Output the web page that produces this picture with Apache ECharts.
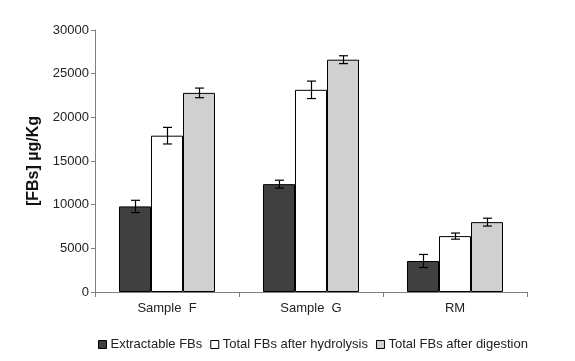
<!DOCTYPE html>
<html><head><meta charset="utf-8">
<script src="https://cdn.jsdelivr.net/npm/echarts@6/dist/echarts.min.js"></script>
<style>html,body{margin:0;padding:0;background:#fff}#c{width:575px;height:361px}</style>
</head><body><div id="c"></div>
<script>
const categories = ['Sample  F', 'Sample  G', 'RM'];
const seriesNames = ['Extractable FBs', 'Total FBs after hydrolysis', 'Total FBs after digestion'];
const extractable = [9800, 12350, 3550];
const extractableErr = [700, 450, 750];
const hydrolysis = [17900, 23150, 6400];
const hydrolysisErr = [950, 1000, 350];
const digestion = [22800, 26600, 8000];
const digestionErr = [550, 450, 450];
const yTicks = [0, 5000, 10000, 15000, 20000, 25000, 30000];

const colors = ['#404040', '#ffffff', '#d0d0d0'];
const values = [extractable, hydrolysis, digestion];
const errs = [extractableErr, hydrolysisErr, digestionErr];
const catGap = 0.3333;

const chart = echarts.init(document.getElementById('c'));
const series = [];
values.forEach((vals, i) => {
  series.push({
    name: seriesNames[i], type: 'bar', data: vals, barGap: '0%', barCategoryGap: '33.33%',
    itemStyle: { color: colors[i], borderColor: '#000', borderWidth: 1 },
    emphasis: { disabled: true }
  });
});
values.forEach((vals, i) => {
  series.push({
    type: 'custom', silent: true, z: 10,
    data: vals.map((v, k) => [k, v - errs[i][k], v + errs[i][k]]),
    renderItem: function (params, api) {
      const cat = api.value(0);
      const lo = api.coord([cat, api.value(1)]);
      const hi = api.coord([cat, api.value(2)]);
      const cw = api.size([1, 0])[0];
      const bw = cw * (1 - catGap) / 3;
      const x = Math.round(lo[0] + (i - 1) * bw) + 0.5;
      const hw = 4.5;
      const st = { stroke: '#000', lineWidth: 1.2, fill: null };
      return { type: 'group', children: [
        { type: 'line', shape: { x1: x, y1: hi[1], x2: x, y2: lo[1] }, style: st },
        { type: 'line', shape: { x1: x - hw, y1: hi[1], x2: x + hw, y2: hi[1] }, style: st },
        { type: 'line', shape: { x1: x - hw, y1: lo[1], x2: x + hw, y2: lo[1] }, style: st }
      ]};
    }
  });
});

chart.setOption({
  animation: false,
  grid: { left: 95, right: 48, top: 30, bottom: 69 },
  legend: {
    data: seriesNames.map((n, i) => ({ name: n, itemStyle: { color: colors[i], borderColor: '#000', borderWidth: 1 } })),
    left: 93, top: 333, itemWidth: 8, itemHeight: 8, itemGap: 8, icon: 'rect',
    selectedMode: false,
    textStyle: { fontFamily: 'Liberation Sans, Arial', fontSize: 13, color: '#222', padding: [0, 0, 0, -1] }
  },
  xAxis: {
    type: 'category', data: categories,
    axisLine: { lineStyle: { color: '#808080', width: 1 } },
    axisTick: { show: true, length: 5, alignWithLabel: false, lineStyle: { color: '#808080' } },
    axisLabel: { fontFamily: 'Liberation Sans, Arial', fontSize: 13, color: '#222', margin: 10 }
  },
  yAxis: {
    type: 'value', min: yTicks[0], max: yTicks[yTicks.length - 1], interval: 5000,
    name: '[FBs] µg/Kg', nameLocation: 'middle', nameGap: 52, nameRotate: 90,
    nameTextStyle: { fontFamily: 'Liberation Sans, Arial', fontSize: 16, fontWeight: 'bold', color: '#111' },
    axisLine: { show: true, lineStyle: { color: '#808080', width: 1 } },
    axisTick: { show: true, length: 4, lineStyle: { color: '#808080' } },
    splitLine: { show: false },
    axisLabel: { fontFamily: 'Liberation Sans, Arial', fontSize: 13, color: '#222', margin: 6,
      formatter: function (v) { return String(v); } }
  },
  series: series
});
</script></body></html>
